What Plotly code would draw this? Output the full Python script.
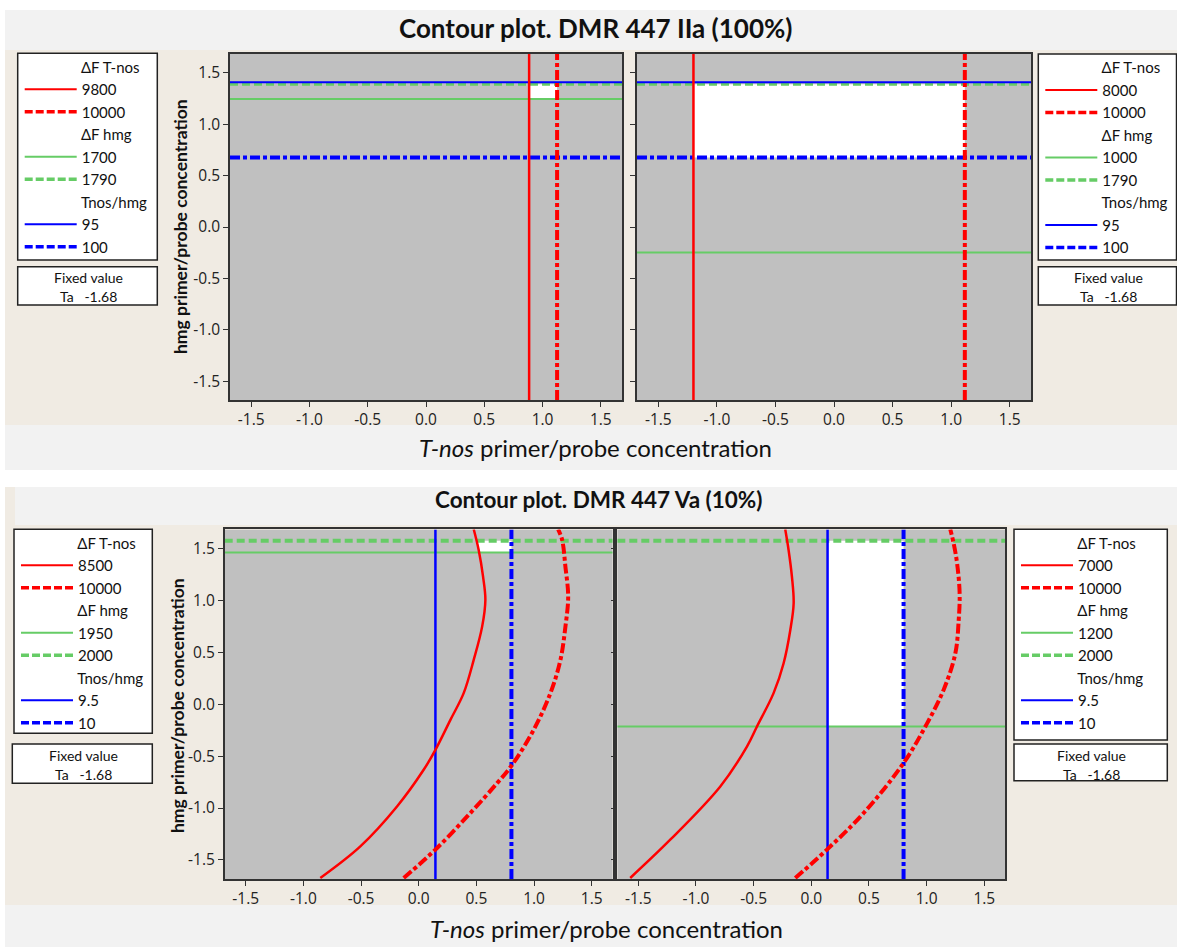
import plotly.graph_objects as go

W, H = 1177, 947
LIM = 1.682  # axial distance of the design (axis limits)

tick_vals = [-1.5, -1.0, -0.5, 0.0, 0.5, 1.0, 1.5]
tick_text = ["-1.5", "-1.0", "-0.5", "0.0", "0.5", "1.0", "1.5"]

# ---------------- DMR 447 IIa (100%) ----------------
iia_L_tnos_levels = ["9800", "10000"]
iia_L_tnos_x = [0.885, 1.125]
iia_L_hmg_levels = ["1700", "1790"]
iia_L_hmg_y = [1.245, 1.388]
iia_L_ratio_levels = ["95", "100"]
iia_L_ratio_y = [1.408, 0.676]
iia_L_white_x = [0.885, 1.125, 1.125, 0.885]
iia_L_white_y = [1.245, 1.245, 1.388, 1.388]

iia_R_tnos_levels = ["8000", "10000"]
iia_R_tnos_x = [-1.20, 1.117]
iia_R_hmg_levels = ["1000", "1790"]
iia_R_hmg_y = [-0.247, 1.388]
iia_R_ratio_levels = ["95", "100"]
iia_R_ratio_y = [1.408, 0.676]
iia_R_white_x = [-1.20, 1.117, 1.117, -1.20]
iia_R_white_y = [0.676, 0.676, 1.388, 1.388]

# ---------------- DMR 447 Va (10%) ----------------
va_L_tnos_levels = ["8500", "10000"]
va_L_tnos_solid_x = [-0.853, -0.506, -0.188, 0.043, 0.145, 0.275, 0.39, 0.477, 0.55, 0.578, 0.558, 0.52, 0.477]
va_L_tnos_solid_y = [-1.673, -1.369, -0.985, -0.632, -0.44, -0.151, 0.106, 0.426, 0.746, 1.003, 1.227, 1.484, 1.683]
va_L_tnos_dash_x = [-0.13, 0.145, 0.448, 0.68, 0.81, 0.997, 1.142, 1.229, 1.272, 1.296, 1.272, 1.244, 1.209]
va_L_tnos_dash_y = [-1.673, -1.40, -1.048, -0.76, -0.584, -0.247, 0.106, 0.426, 0.746, 1.035, 1.323, 1.58, 1.683]
va_L_hmg_levels = ["1950", "2000"]
va_L_hmg_y = [1.46, 1.573]
va_L_ratio_levels = ["9.5", "10"]
va_L_ratio_x = [0.145, 0.804]
va_L_white_x = [0.53, 0.804, 0.804, 0.51]
va_L_white_y = [1.46, 1.46, 1.573, 1.573]

va_R_tnos_levels = ["7000", "10000"]
va_R_tnos_solid_x = [-1.570, -1.223, -0.789, -0.558, -0.471, -0.327, -0.24, -0.182, -0.153, -0.168, -0.197, -0.226]
va_R_tnos_solid_y = [-1.673, -1.305, -0.792, -0.408, -0.215, 0.106, 0.394, 0.714, 0.971, 1.227, 1.484, 1.683]
va_R_tnos_dash_x = [-0.139, 0.136, 0.454, 0.80, 0.989, 1.147, 1.249, 1.278, 1.286, 1.264, 1.234, 1.205]
va_R_tnos_dash_y = [-1.673, -1.40, -1.048, -0.567, -0.215, 0.137, 0.49, 0.81, 1.067, 1.356, 1.548, 1.683]
va_R_hmg_levels = ["1200", "2000"]
va_R_hmg_y = [-0.215, 1.573]
va_R_ratio_levels = ["9.5", "10"]
va_R_ratio_x = [0.141, 0.80]
va_R_white_x = [0.141, 0.80, 0.80, 0.141]
va_R_white_y = [-0.215, -0.215, 1.573, 1.573]

fixed_label = "Fixed value"
fixed_text = "Ta   -1.68"

RED, GREEN, BLUE = "#ff0000", "#66cc66", "#0000ff"
GRAY_BG = "#c0c0c0"
BEIGE = "#f0ebe3"
BAND = "#f2f2f2"
DASH_RB = "10px,3px,4px,3px"
DASH_G = "8px,4px"
DASH_LEG = "8px,3px"
FONT_T = "Lato"
FONT_TICK = "Open Sans"
INDENT = "\u2003" * 5


def fx(p):
    return p / W


def fy(p):
    return 1 - p / H


fig = go.Figure()

panels = {
    "TL": ("x", "y", (230, 622), (54, 400)),
    "TR": ("x2", "y2", (637, 1031), (54, 400)),
    "BL": ("x3", "y3", (224.7, 612.7), (529.4, 878.9)),
    "BR": ("x4", "y4", (617.3, 1005.3), (529.4, 878.9)),
}


def region(ax, xs, ys, color):
    xa, ya = ax
    fig.add_trace(go.Scatter(x=xs, y=ys, mode="lines", fill="toself", fillcolor=color,
                             line=dict(width=0, color=color), xaxis=xa, yaxis=ya,
                             showlegend=False, hoverinfo="skip"))


def hline(ax, v, color, width, dash):
    xa, ya = ax
    fig.add_trace(go.Scatter(x=[-LIM, LIM], y=[v, v], mode="lines", xaxis=xa, yaxis=ya,
                             line=dict(color=color, width=width, dash=dash), showlegend=False,
                             hoverinfo="skip"))


def vline(ax, v, color, width, dash):
    xa, ya = ax
    fig.add_trace(go.Scatter(x=[v, v], y=[-LIM, LIM], mode="lines", xaxis=xa, yaxis=ya,
                             line=dict(color=color, width=width, dash=dash), showlegend=False,
                             hoverinfo="skip"))


def curve(ax, xs, ys, color, width, dash):
    xa, ya = ax
    fig.add_trace(go.Scatter(x=xs, y=ys, mode="lines", xaxis=xa, yaxis=ya, line_shape="spline",
                             line=dict(color=color, width=width, dash=dash), showlegend=False,
                             hoverinfo="skip"))


def legend_entries(ax, legend, tnos, hmg, ratio):
    xa, ya = ax
    groups = [("ΔF T-nos", tnos, RED), ("ΔF hmg", hmg, GREEN), ("Tnos/hmg", ratio, BLUE)]
    for gi, (title, levels, color) in enumerate(groups):
        for li, lev in enumerate(levels):
            fig.add_trace(go.Scatter(
                x=[None], y=[None], mode="lines", xaxis=xa, yaxis=ya, name=lev,
                legend=legend, legendgroup=legend + str(gi),
                legendgrouptitle=dict(text=INDENT + title) if li == 0 else None,
                line=dict(color=color, width=2 if li == 0 else 3.5,
                          dash="solid" if li == 0 else DASH_LEG),
                showlegend=True, hoverinfo="skip"))


def background(ax):
    region(ax, [-LIM, LIM, LIM, -LIM], [-LIM, -LIM, LIM, LIM], GRAY_BG)


# --- top-left
ax = ("x", "y")
background(ax)
region(ax, iia_L_white_x, iia_L_white_y, "white")
hline(ax, iia_L_hmg_y[0], GREEN, 2, "solid")
hline(ax, iia_L_hmg_y[1], GREEN, 3, DASH_G)
hline(ax, iia_L_ratio_y[0], BLUE, 2, "solid")
hline(ax, iia_L_ratio_y[1], BLUE, 4, DASH_RB)
vline(ax, iia_L_tnos_x[0], RED, 2.5, "solid")
vline(ax, iia_L_tnos_x[1], RED, 4, DASH_RB)
legend_entries(ax, "legend", iia_L_tnos_levels, iia_L_hmg_levels, iia_L_ratio_levels)

# --- top-right
ax = ("x2", "y2")
background(ax)
region(ax, iia_R_white_x, iia_R_white_y, "white")
hline(ax, iia_R_hmg_y[0], GREEN, 2, "solid")
hline(ax, iia_R_hmg_y[1], GREEN, 3, DASH_G)
hline(ax, iia_R_ratio_y[0], BLUE, 2, "solid")
hline(ax, iia_R_ratio_y[1], BLUE, 4, DASH_RB)
vline(ax, iia_R_tnos_x[0], RED, 2.5, "solid")
vline(ax, iia_R_tnos_x[1], RED, 4, DASH_RB)
legend_entries(ax, "legend2", iia_R_tnos_levels, iia_R_hmg_levels, iia_R_ratio_levels)

# --- bottom-left
ax = ("x3", "y3")
background(ax)
region(ax, va_L_white_x, va_L_white_y, "white")
hline(ax, va_L_hmg_y[0], GREEN, 2, "solid")
hline(ax, va_L_hmg_y[1], GREEN, 4, DASH_G)
vline(ax, va_L_ratio_x[0], BLUE, 2.5, "solid")
vline(ax, va_L_ratio_x[1], BLUE, 4, DASH_RB)
curve(ax, va_L_tnos_solid_x, va_L_tnos_solid_y, RED, 2.5, "solid")
curve(ax, va_L_tnos_dash_x, va_L_tnos_dash_y, RED, 4, DASH_RB)
legend_entries(ax, "legend3", va_L_tnos_levels, va_L_hmg_levels, va_L_ratio_levels)

# --- bottom-right
ax = ("x4", "y4")
background(ax)
region(ax, va_R_white_x, va_R_white_y, "white")
hline(ax, va_R_hmg_y[0], GREEN, 2, "solid")
hline(ax, va_R_hmg_y[1], GREEN, 4, DASH_G)
vline(ax, va_R_ratio_x[0], BLUE, 2.5, "solid")
vline(ax, va_R_ratio_x[1], BLUE, 4, DASH_RB)
curve(ax, va_R_tnos_solid_x, va_R_tnos_solid_y, RED, 2.5, "solid")
curve(ax, va_R_tnos_dash_x, va_R_tnos_dash_y, RED, 4, DASH_RB)
legend_entries(ax, "legend4", va_R_tnos_levels, va_R_hmg_levels, va_R_ratio_levels)

layout = dict(
    width=W, height=H, margin=dict(l=0, r=0, t=0, b=0, autoexpand=False), autosize=False,
    paper_bgcolor="white", plot_bgcolor=GRAY_BG, showlegend=True,
    font=dict(family=FONT_T, color="#111"),
    modebar=dict(bgcolor="rgba(0,0,0,0)", color="rgba(0,0,0,0)", activecolor="rgba(0,0,0,0)"),
)

for name, (xa, ya, xd, yd) in panels.items():
    xkey = "xaxis" if xa == "x" else "xaxis" + xa[1:]
    ykey = "yaxis" if ya == "y" else "yaxis" + ya[1:]
    left_panel = name in ("TL", "BL")
    layout[xkey] = dict(domain=[fx(xd[0]), fx(xd[1])], range=[-LIM, LIM], anchor=ya,
                        tickvals=tick_vals, ticktext=tick_text, ticks="outside", ticklen=5,
                        tickcolor="#333", showline=True, linecolor="#333", linewidth=1.5, mirror=True,
                        showgrid=False, zeroline=False,
                        tickfont=dict(family=FONT_TICK, size=15.5, color="#222"))
    layout[ykey] = dict(domain=[fy(yd[1]), fy(yd[0])], range=[-LIM, LIM], anchor=xa,
                        tickvals=tick_vals, ticktext=tick_text, ticks="outside", ticklen=5,
                        tickcolor="#333", showline=True, linecolor="#333", linewidth=1.5, mirror=True,
                        showgrid=False, zeroline=False, showticklabels=left_panel,
                        tickfont=dict(family=FONT_TICK, size=15.5, color="#222"))

legend_boxes = {
    "legend": (17.7, 53.3, 157.3, 260),
    "legend2": (1038.3, 54, 1176.5, 260),
    "legend3": (14, 529.3, 152.3, 733.3),
    "legend4": (1014, 529.3, 1167.3, 740),
}
fixed_boxes = {
    "legend": (17.7, 266.7, 157.3, 305),
    "legend2": (1038.3, 266.7, 1176.5, 305),
    "legend3": (12.3, 744, 152.3, 783.3),
    "legend4": (1014, 744, 1167.3, 780.7),
}
for key, (l, t, r, b) in legend_boxes.items():
    layout[key] = dict(x=fx(l + 2), y=fy(t - 2.7), xanchor="left", yanchor="top",
                       bgcolor="rgba(0,0,0,0)", borderwidth=0, itemwidth=52,
                       tracegroupgap=0, traceorder="grouped",
                       font=dict(family=FONT_T, size=15, color="#111"),
                       grouptitlefont=dict(family=FONT_T, size=15, color="#111"))

shapes = []


def rect(x0, y0, x1, y1, fill, line=None, layer="below"):
    d = dict(type="rect", xref="paper", yref="paper", x0=fx(x0), x1=fx(x1), y0=fy(y1), y1=fy(y0),
             fillcolor=fill, layer=layer, line=dict(width=0))
    if line:
        d["line"] = dict(color=line, width=1.5)
    shapes.append(d)


rect(5, 10, W, 50, BAND)
rect(5, 50, W, 425, BEIGE)
rect(5, 425, W, 470, BAND)
rect(5, 487, 15, 905, BEIGE)
rect(15, 487, W, 525, BAND)
rect(5, 525, W, 905, BEIGE)
rect(5, 905, W, H, BAND)
for key, (l, t, r, b) in legend_boxes.items():
    rect(l, t, r, b, "white", line="#222")
for key, (l, t, r, b) in fixed_boxes.items():
    rect(l, t, r, b, "white", line="#222")
layout["shapes"] = shapes

ann = []


def text(x, y, s, size, bold=False, angle=0, family=FONT_T):
    ann.append(dict(x=fx(x), y=fy(y), xref="paper", yref="paper", text=("<b>%s</b>" % s) if bold else s,
                    showarrow=False, xanchor="center", yanchor="middle", textangle=angle,
                    font=dict(family=family, size=size, color="#111")))


text(595, 28, "Contour plot. DMR 447 IIa (100%)", 26, bold=True)
text(598, 500, "Contour plot. DMR 447 Va (10%)", 22.5, bold=True)
text(595, 448, "<i>T-nos</i> primer/probe concentration", 24)
text(606, 928, "<i>T-nos</i> primer/probe concentration", 24)
text(180, 227, "hmg primer/probe concentration", 17.5, bold=True, angle=-90)
text(177, 706, "hmg primer/probe concentration", 17.5, bold=True, angle=-90)
for key, (l, t, r, b) in fixed_boxes.items():
    cx = (l + r) / 2
    text(cx + 1, t + 11, fixed_label, 14)
    text(cx + 1, t + 30, fixed_text, 14)
layout["annotations"] = ann

fig.update_layout(**layout)
fig.write_html("out.html", config={"displaylogo": False},
               post_script="document.body.style.margin='0px';")
